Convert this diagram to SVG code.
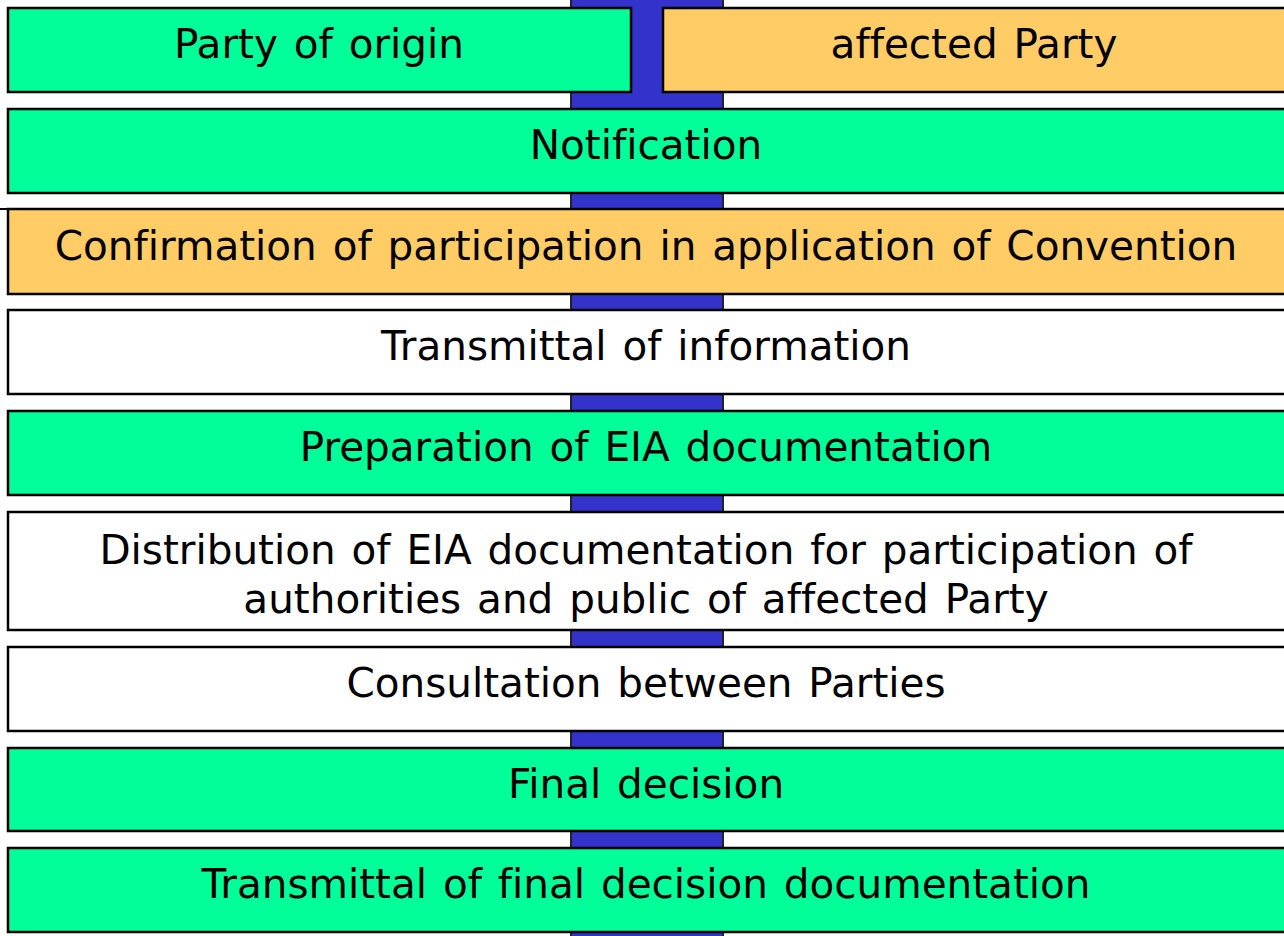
<svg xmlns="http://www.w3.org/2000/svg" width="1284" height="936" viewBox="0 0 1284 936">
  <style>
    .box { stroke: #000; stroke-width: 2.5; }
    .green { fill: #00FF99; }
    .orange { fill: #FFCC66; }
    .white { fill: #FFFFFF; }
    .lbl { font-family: "DejaVu Sans", Verdana, sans-serif; font-size: 40.5px; fill: #000; text-anchor: middle; word-spacing: 3px; font-variant-ligatures: none; }
    .spine { fill: #3333CC; stroke: #222; stroke-width: 2; }
  </style>
  <rect width="1284" height="936" fill="#FFFFFF"/>

  <!-- central spine behind the stages -->
  <g id="connectors">
    <rect class="spine" x="571" y="-5" width="152" height="950"/>
  </g>

  <g id="party-of-origin">
    <rect class="box green" x="8" y="8" width="623" height="84"/>
    <text class="lbl" x="319" y="58">Party of origin</text>
  </g>
  <g id="affected-party">
    <rect class="box orange" x="663" y="8" width="625" height="84"/>
    <text class="lbl" x="974" y="58">affected Party</text>
  </g>
  <g id="notification">
    <rect class="box green" x="8" y="109" width="1280" height="84"/>
    <text class="lbl" x="646" y="159">Notification</text>
  </g>
  <g id="confirmation">
    <line x1="0" y1="209" x2="8" y2="209" stroke="#000" stroke-width="2"/>
    <rect class="box orange" x="8" y="209" width="1280" height="85"/>
    <text class="lbl" x="646" y="260">Confirmation of participation in application of Convention</text>
  </g>
  <g id="transmittal-info">
    <rect class="box white" x="8" y="310" width="1280" height="84"/>
    <text class="lbl" x="646" y="360">Transmittal of information</text>
  </g>
  <g id="preparation">
    <rect class="box green" x="8" y="411" width="1280" height="84"/>
    <text class="lbl" x="646" y="461">Preparation of EIA documentation</text>
  </g>
  <g id="distribution">
    <rect class="box white" x="8" y="512" width="1280" height="118"/>
    <text class="lbl" x="646" y="564">Distribution of EIA documentation for participation of</text>
    <text class="lbl" x="646" y="613">authorities and public of affected Party</text>
  </g>
  <g id="consultation">
    <rect class="box white" x="8" y="647" width="1280" height="84"/>
    <text class="lbl" x="646" y="697">Consultation between Parties</text>
  </g>
  <g id="final-decision">
    <rect class="box green" x="8" y="748" width="1280" height="83"/>
    <text class="lbl" x="646" y="798">Final decision</text>
  </g>
  <g id="transmittal-final">
    <rect class="box green" x="8" y="848" width="1280" height="84"/>
    <text class="lbl" x="646" y="898">Transmittal of final decision documentation</text>
  </g>
</svg>
